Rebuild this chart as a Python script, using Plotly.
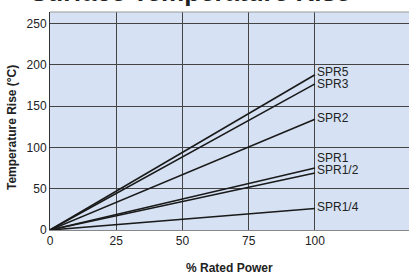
import plotly.graph_objects as go

series_names = ["SPR5", "SPR3", "SPR2", "SPR1", "SPR1/2", "SPR1/4"]
power_pct = [0, 100]
temp_end = [188, 177, 134, 75, 69, 26]
label_y = [191, 177, 136, 87, 73, 28]
x_ticks = [0, 25, 50, 75, 100]
y_ticks = [0, 50, 100, 150, 200, 250]

fig = go.Figure()
for name, t in zip(series_names, temp_end):
    fig.add_trace(go.Scatter(x=power_pct, y=[0, t], mode="lines",
                             line=dict(color="#1a1a1a", width=1.6),
                             name=name, showlegend=False, hoverinfo="skip"))

for name, ly in zip(series_names, label_y):
    fig.add_annotation(x=100, y=ly, text=name, showarrow=False, xanchor="left",
                       xshift=0, font=dict(size=12, color="#222"))

# cut-off title at top
fig.add_annotation(x=0.39, y=1.016, xref="paper", yref="paper", xanchor="center",
                   yanchor="bottom", text="<b>Surface Temperature Rise</b>", showarrow=False,
                   font=dict(size=26, color="#222"))
# axis titles
fig.add_annotation(x=0.5, y=-38 / 218, xref="paper", yref="paper", yanchor="middle",
                   text="<b>% Rated Power</b>", showarrow=False,
                   font=dict(size=12, color="#222"))
fig.add_annotation(x=-38 / 359, y=-7 / 218 + 0.5, xref="paper", yref="paper",
                   text="<b>Temperature Rise (°C)</b>", textangle=-90, showarrow=False,
                   xanchor="center", yanchor="middle", font=dict(size=12, color="#222"))

fig.update_layout(
    width=409, height=274,
    margin=dict(l=50, r=0, t=12, b=44),
    paper_bgcolor="white", plot_bgcolor="#d6e2f3",
    font=dict(family="Liberation Sans, Arial, sans-serif", color="#222"),
    xaxis=dict(range=[0, 135.5], tickvals=x_ticks, showgrid=True, gridcolor="#444",
               gridwidth=1, zeroline=False, showline=True, linecolor="#888", linewidth=1,
               ticks="", tickfont=dict(size=12), automargin=False),
    yaxis=dict(range=[0, 264], tickvals=y_ticks, showgrid=True, gridcolor="#444",
               gridwidth=1, zeroline=False, showline=True, linecolor="#333", linewidth=1,
               ticks="", tickfont=dict(size=12), automargin=False),
)
fig.add_shape(type="line", xref="paper", yref="paper", x0=0, x1=1, y0=1, y1=1,
              line=dict(color="#999", width=1))
fig.write_html("out.html", config={"displayModeBar": False},
               post_script="document.body.style.margin='0';")
